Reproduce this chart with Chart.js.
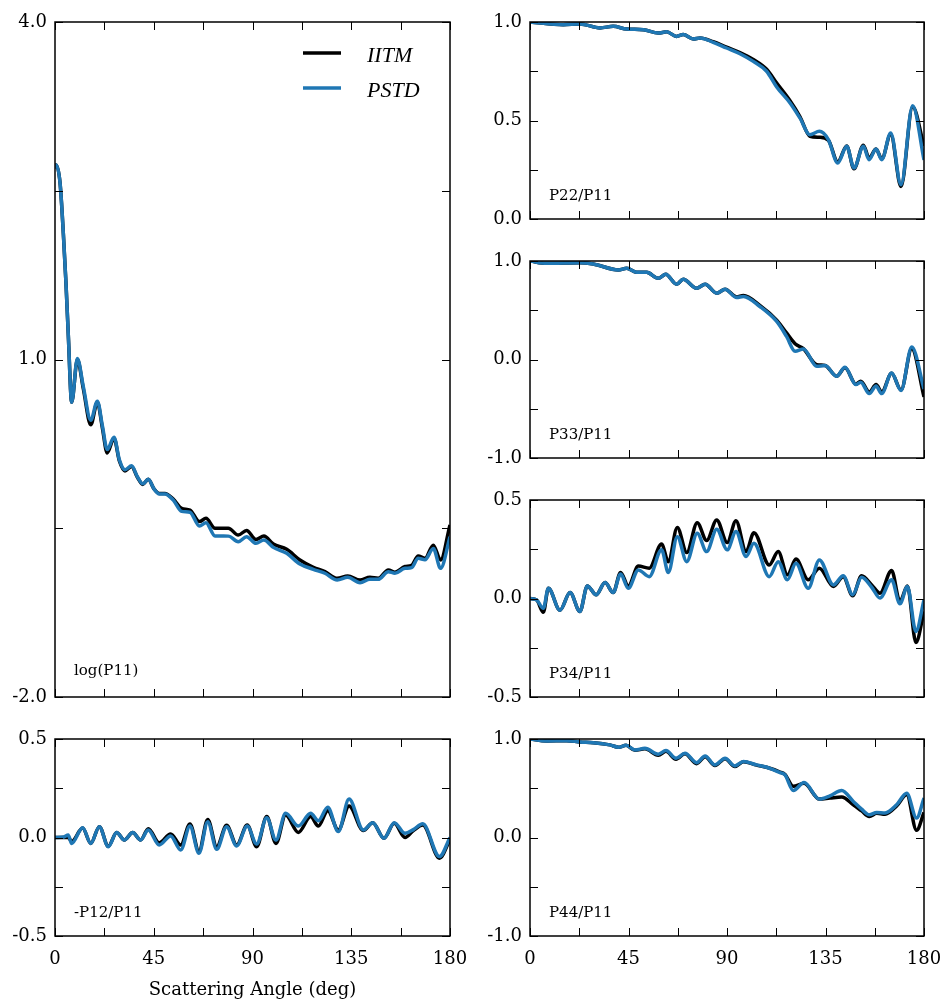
<!DOCTYPE html>
<html>
<head>
<meta charset="utf-8">
<script src="https://cdn.jsdelivr.net/npm/chart.js@4.4.1/dist/chart.umd.min.js"></script>
<style>
  body { margin: 0; background: #fff; width: 946px; height: 1004px; position: relative; overflow: hidden; }
  canvas { position: absolute; }
</style>
</head>
<body>
<script>
// scattering angle (deg) sample points and the two solutions, one set per panel
const ANG_P11 = [0, 0.5, 2.3, 3.8, 5, 6.1, 7.6, 10.2, 12.9, 16.3, 19.3, 21.6, 23.8, 26.9, 29.3, 31.9, 34.9, 37.5, 40, 42.5, 45.1, 47.5, 50.1, 53.9, 57.7, 61.5, 65.8, 68.8, 72.9, 79, 83.5, 87.3, 91.6, 95.2, 99.5, 105.6, 111.6, 117.7, 123, 128.6, 133.4, 139, 143.5, 147.3, 151.9, 154.9, 159.5, 162.5, 165.5, 168.6, 172.4, 175.7, 180];
const IITM_P11 = [2.70, 2.73, 2.57, 2.12, 1.68, 1.20, 0.62, 1.00, 0.74, 0.42, 0.62, 0.39, 0.17, 0.30, 0.10, 0.01, 0.05, -0.045, -0.11, -0.065, -0.15, -0.19, -0.19, -0.24, -0.323, -0.338, -0.441, -0.412, -0.5, -0.5, -0.56, -0.52, -0.6, -0.569, -0.64, -0.687, -0.782, -0.847, -0.886, -0.945, -0.924, -0.96, -0.936, -0.945, -0.871, -0.89, -0.84, -0.83, -0.747, -0.767, -0.65, -0.782, -0.47];
const PSTD_P11 = [2.70, 2.73, 2.57, 2.12, 1.68, 1.20, 0.62, 1.01, 0.76, 0.46, 0.63, 0.41, 0.20, 0.31, 0.11, 0.02, 0.055, -0.04, -0.105, -0.065, -0.15, -0.195, -0.195, -0.25, -0.35, -0.357, -0.48, -0.45, -0.569, -0.57, -0.62, -0.575, -0.634, -0.604, -0.67, -0.723, -0.818, -0.865, -0.9, -0.96, -0.936, -0.984, -0.954, -0.954, -0.886, -0.9, -0.856, -0.85, -0.767, -0.78, -0.68, -0.856, -0.575];

const ANG_P12 = [0, 4, 6, 7.6, 12.6, 16.3, 20.2, 24.3, 28.1, 31.6, 35.4, 39, 42.5, 47.5, 52.7, 57.3, 61.5, 65.6, 69.6, 73.7, 78.2, 82.8, 87.6, 91.9, 96.5, 100.7, 105.1, 110.9, 116.5, 120, 124.3, 129.1, 134, 140.5, 144.8, 149.9, 154.6, 159.5, 163.3, 167.6, 175.2, 180];
const IITM_P12 = [0, 0, 0, -0.02, 0.048, -0.03, 0.055, -0.045, 0.025, -0.013, 0.025, -0.013, 0.045, -0.027, 0.018, -0.038, 0.069, -0.07, 0.092, -0.047, 0.062, -0.038, 0.063, -0.047, 0.106, -0.03, 0.114, 0.026, 0.106, 0.058, 0.136, 0.038, 0.16, 0.035, 0.075, -0.004, 0.072, 0.0, 0.035, 0.063, -0.105, -0.01];
const PSTD_P12 = [0, 0.003, 0.013, -0.03, 0.05, -0.03, 0.055, -0.047, 0.025, -0.013, 0.025, -0.013, 0.038, -0.038, 0.008, -0.063, 0.058, -0.08, 0.08, -0.06, 0.055, -0.043, 0.058, -0.033, 0.1, -0.013, 0.123, 0.058, 0.123, 0.085, 0.153, 0.03, 0.195, 0.038, 0.075, -0.004, 0.075, 0.021, 0.04, 0.07, -0.097, 0];

const ANG_P22 = [0, 15.2, 22.8, 32, 38, 44.2, 51.8, 58.6, 62.4, 67, 70, 74.6, 77.7, 83.7, 89.8, 95.9, 102, 108.1, 112.7, 118.8, 123.3, 127.9, 132.2, 136.3, 140.6, 144.7, 148, 152.3, 154.9, 158.1, 160.7, 164.8, 169.5, 174.8, 180];
const IITM_P22 = [1.0, 0.986, 0.99, 0.97, 0.978, 0.964, 0.961, 0.944, 0.95, 0.927, 0.936, 0.914, 0.919, 0.9, 0.872, 0.845, 0.81, 0.76, 0.69, 0.6, 0.52, 0.42, 0.415, 0.4, 0.29, 0.37, 0.255, 0.375, 0.31, 0.355, 0.305, 0.43, 0.165, 0.57, 0.37];
const PSTD_P22 = [1.0, 0.986, 0.99, 0.97, 0.978, 0.964, 0.961, 0.944, 0.95, 0.927, 0.936, 0.914, 0.919, 0.897, 0.868, 0.839, 0.8, 0.75, 0.67, 0.589, 0.513, 0.428, 0.445, 0.403, 0.284, 0.369, 0.259, 0.369, 0.301, 0.355, 0.301, 0.437, 0.174, 0.575, 0.30];

const ANG_P33 = [0, 7.6, 22.8, 28.9, 40.4, 44.2, 48.7, 53.3, 58.6, 62, 67, 70, 76.1, 80, 85.3, 89.1, 94.4, 97.5, 105, 112.7, 117.2, 121.1, 124.9, 131, 134.8, 140.1, 143.9, 148.9, 151.1, 155, 158.1, 160.7, 165.2, 169.5, 174.4, 180];
const IITM_P33 = [1.0, 0.976, 0.983, 0.97, 0.909, 0.926, 0.885, 0.885, 0.825, 0.865, 0.764, 0.815, 0.723, 0.764, 0.673, 0.713, 0.635, 0.65, 0.55, 0.40, 0.27, 0.16, 0.11, -0.052, -0.06, -0.17, -0.085, -0.25, -0.22, -0.33, -0.255, -0.33, -0.14, -0.31, 0.11, -0.38];
const PSTD_P33 = [1.0, 0.976, 0.983, 0.97, 0.909, 0.926, 0.885, 0.885, 0.825, 0.865, 0.764, 0.815, 0.723, 0.764, 0.673, 0.713, 0.629, 0.64, 0.538, 0.386, 0.234, 0.083, 0.106, -0.069, -0.062, -0.17, -0.079, -0.255, -0.23, -0.346, -0.27, -0.346, -0.137, -0.315, 0.127, -0.3];

const ANG_P34 = [0, 3, 6.1, 8.4, 13.7, 18.3, 22.8, 26.2, 30.2, 34.3, 38, 41.4, 44.9, 49.5, 54.5, 60.1, 63.2, 67.3, 71.6, 76.4, 80.7, 85.3, 90.1, 94.1, 98.7, 102.3, 109.3, 113.4, 117.6, 121.5, 127.1, 132.2, 138.6, 143.1, 147.4, 151.5, 156.1, 159.9, 165.2, 169, 172.4, 176.3, 180];
const IITM_P34 = [0, -0.007, -0.07, 0.052, -0.06, 0.03, -0.066, 0.064, 0.019, 0.081, 0.03, 0.132, 0.064, 0.165, 0.154, 0.277, 0.187, 0.361, 0.233, 0.385, 0.294, 0.399, 0.284, 0.395, 0.238, 0.334, 0.17, 0.238, 0.12, 0.2, 0.095, 0.154, 0.061, 0.111, 0.014, 0.115, 0.069, 0.027, 0.142, -0.015, 0.064, -0.223, -0.066];
const PSTD_P34 = [0, -0.007, -0.05, 0.052, -0.06, 0.03, -0.066, 0.064, 0.019, 0.081, 0.03, 0.125, 0.052, 0.145, 0.111, 0.247, 0.132, 0.314, 0.187, 0.331, 0.238, 0.351, 0.247, 0.34, 0.213, 0.28, 0.111, 0.187, 0.095, 0.179, 0.052, 0.196, 0.069, 0.115, 0.019, 0.108, 0.057, 0.002, 0.095, -0.027, 0.061, -0.167, -0.007];

const ANG_P44 = [0, 7.6, 16.8, 22.8, 28.9, 36.5, 40.4, 43.9, 48, 52.5, 58.6, 62.1, 66.7, 70.8, 76.1, 80, 84.5, 89.1, 93.6, 97.5, 103.5, 108.1, 114.2, 116.5, 120.3, 125.2, 132.2, 137, 142.4, 147.7, 151.5, 155, 158.4, 162.2, 167.5, 172.1, 176.6, 180];
const IITM_P44 = [1.0, 0.98, 0.983, 0.97, 0.963, 0.94, 0.916, 0.936, 0.885, 0.9, 0.835, 0.875, 0.795, 0.85, 0.75, 0.82, 0.73, 0.8, 0.72, 0.77, 0.735, 0.713, 0.665, 0.64, 0.52, 0.55, 0.39, 0.4, 0.41, 0.332, 0.27, 0.214, 0.245, 0.235, 0.32, 0.433, 0.073, 0.255];
const PSTD_P44 = [1.0, 0.98, 0.983, 0.97, 0.963, 0.94, 0.916, 0.936, 0.889, 0.906, 0.845, 0.882, 0.804, 0.855, 0.76, 0.828, 0.737, 0.804, 0.727, 0.771, 0.737, 0.713, 0.659, 0.636, 0.477, 0.558, 0.39, 0.423, 0.477, 0.366, 0.288, 0.231, 0.255, 0.248, 0.332, 0.45, 0.197, 0.4];

const SERIES_NAMES = ['IITM', 'PSTD'];
const SERIES_COLORS = ['#000000', '#1f77b4'];

const TICK_LEN = 8;

Chart.defaults.font.family = '"DejaVu Serif", serif';
Chart.defaults.font.size = 18;
Chart.defaults.color = '#000';

// frame, inward ticks on every side, panel name and (first panel) legend
const panelDecor = {
  id: 'panelDecor',
  afterDraw(chart, args, opts) {
    const { ctx, chartArea: a, scales: { x, y } } = chart;
    ctx.save();
    ctx.strokeStyle = '#000';
    ctx.lineWidth = 1;
    ctx.beginPath();
    x.ticks.forEach(t => {
      const px = Math.round(x.getPixelForValue(t.value)) + 0.5;
      ctx.moveTo(px, a.top); ctx.lineTo(px, a.top + TICK_LEN);
      ctx.moveTo(px, a.bottom); ctx.lineTo(px, a.bottom - TICK_LEN);
    });
    y.ticks.forEach(t => {
      const py = Math.round(y.getPixelForValue(t.value)) + 0.5;
      ctx.moveTo(a.left, py); ctx.lineTo(a.left + TICK_LEN, py);
      ctx.moveTo(a.right, py); ctx.lineTo(a.right - TICK_LEN, py);
    });
    ctx.stroke();
    ctx.lineWidth = 1.5;
    ctx.strokeRect(a.left, a.top, a.right - a.left, a.bottom - a.top);

    ctx.fillStyle = '#000';
    ctx.textBaseline = 'alphabetic';
    ctx.font = '15px "DejaVu Serif"';
    ctx.fillText(opts.name, a.left + 19, a.bottom - opts.lift);

    if (opts.legend) {
      chart.data.datasets.forEach((ds, i) => {
        const ly = a.top + 31 + i * 35;
        ctx.strokeStyle = ds.borderColor;
        ctx.lineWidth = 3.5;
        ctx.beginPath();
        ctx.moveTo(a.left + 248, ly);
        ctx.lineTo(a.left + 286, ly);
        ctx.stroke();
        ctx.font = 'italic 22px "Liberation Serif"';
        ctx.fillText(ds.label, a.left + 312, ly + 8.5);
      });
    }
    ctx.restore();
  }
};

function pairs(xs, ys) {
  return xs.map((v, i) => ({ x: v, y: ys[i] }));
}

function yLabel(value, index) {
  if (index % 2) return '';
  return Math.abs(value) < 1e-9 ? '0.0' : value.toFixed(1);
}

// plot rectangles in page pixels: left, top, right, bottom
const panels = [
  { name: 'log(P11)', rect: [55, 22, 450, 697], y: [-2, 4, 1.5], ang: ANG_P11, vals: [IITM_P11, PSTD_P11], lift: 22, legend: true },
  { name: '-P12/P11', rect: [55, 739, 450, 936], y: [-0.5, 0.5, 0.25], ang: ANG_P12, vals: [IITM_P12, PSTD_P12], lift: 19, xLabels: true, xTitle: true },
  { name: 'P22/P11', rect: [530, 22, 924, 219], y: [0, 1, 0.25], ang: ANG_P22, vals: [IITM_P22, PSTD_P22], lift: 19 },
  { name: 'P33/P11', rect: [530, 261, 924, 458], y: [-1, 1, 0.5], ang: ANG_P33, vals: [IITM_P33, PSTD_P33], lift: 19 },
  { name: 'P34/P11', rect: [530, 500, 924, 697], y: [-0.5, 0.5, 0.25], ang: ANG_P34, vals: [IITM_P34, PSTD_P34], lift: 19 },
  { name: 'P44/P11', rect: [530, 739, 924, 936], y: [-1, 1, 0.5], ang: ANG_P44, vals: [IITM_P44, PSTD_P44], lift: 19, xLabels: true }
];

panels.forEach(p => {
  const [left, top, right, bottom] = p.rect;
  // room round the plot area; generous so Chart.js never has to shrink it
  const padL = left < 100 ? left : 60;
  const padT = 24;
  const padR = 36;
  const padB = p.xTitle ? 1004 - bottom : (p.xLabels ? 44 : 26);

  const canvas = document.createElement('canvas');
  canvas.width = right - left + padL + padR;
  canvas.height = bottom - top + padT + padB;
  canvas.style.left = (left - padL) + 'px';
  canvas.style.top = (top - padT) + 'px';
  canvas.style.width = canvas.width + 'px';
  canvas.style.height = canvas.height + 'px';
  document.body.appendChild(canvas);

  new Chart(canvas, {
    type: 'line',
    data: {
      datasets: SERIES_NAMES.map((name, i) => ({
        label: name,
        data: pairs(p.ang, p.vals[i]),
        borderColor: SERIES_COLORS[i],
        backgroundColor: SERIES_COLORS[i],
        borderWidth: 3.5,
        pointRadius: 0,
        cubicInterpolationMode: 'monotone',
        borderJoinStyle: 'round',
        order: SERIES_NAMES.length - i
      }))
    },
    options: {
      responsive: false,
      animation: false,
      events: [],
      layout: { padding: { top: padT, right: padR, left: 0, bottom: 0 } },
      plugins: {
        legend: { display: false },
        tooltip: { enabled: false },
        panelDecor: { name: p.name, lift: p.lift, legend: !!p.legend }
      },
      scales: {
        x: {
          type: 'linear',
          min: 0,
          max: 180,
          grid: { display: false, drawTicks: false },
          border: { display: false },
          ticks: {
            stepSize: 22.5,
            autoSkip: false,
            maxRotation: 0,
            padding: 13,
            callback: v => (p.xLabels && v % 45 === 0 ? String(v) : '')
          },
          title: {
            display: !!p.xTitle,
            text: 'Scattering Angle (deg)',
            font: { size: 18 },
            padding: { top: 0, bottom: 3 }
          },
          afterFit: s => { s.height = padB; }
        },
        y: {
          type: 'linear',
          min: p.y[0],
          max: p.y[1],
          grid: { display: false, drawTicks: false },
          border: { display: false },
          ticks: { stepSize: p.y[2], autoSkip: false, padding: 8, callback: yLabel },
          afterFit: s => { s.width = padL; }
        }
      }
    },
    plugins: [panelDecor]
  });
});
</script>
</body>
</html>
